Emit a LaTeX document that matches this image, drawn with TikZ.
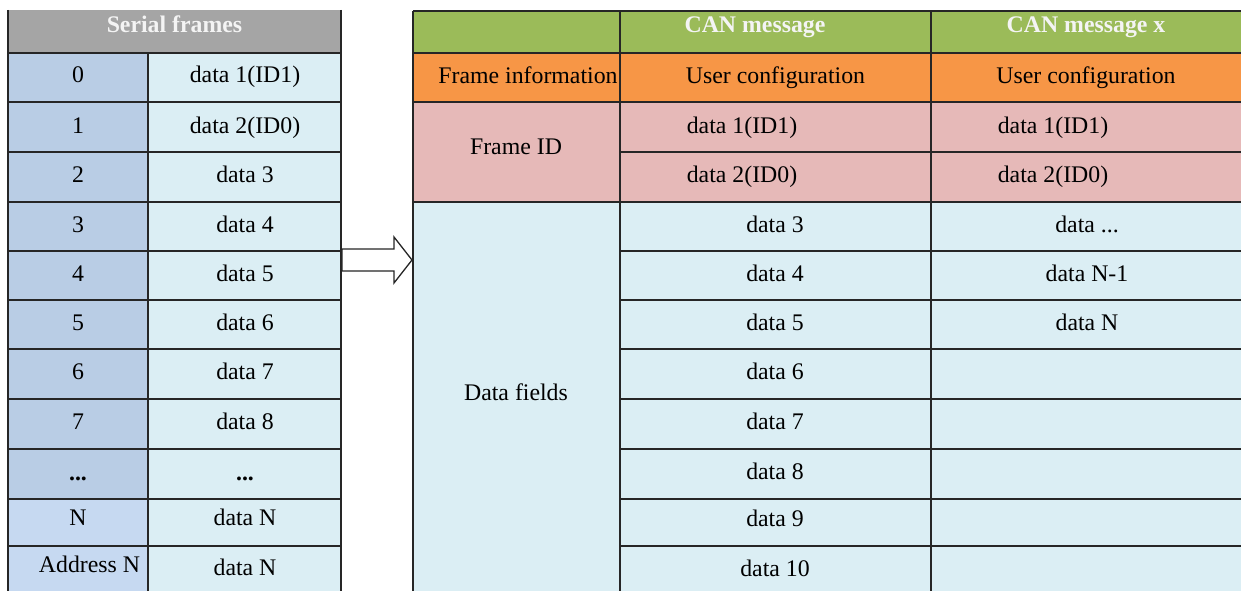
\documentclass[tikz,border=0pt]{standalone}
\usepackage{fontspec}
\setmainfont{Liberation Serif}
\definecolor{hdrgray}{HTML}{A5A5A5}
\definecolor{hdrtext}{HTML}{F4F4F4}
\definecolor{blueA}{HTML}{B9CDE5}
\definecolor{blueB}{HTML}{C6D9F1}
\definecolor{cyanL}{HTML}{DBEEF4}
\definecolor{greenH}{HTML}{9BBB59}
\definecolor{orangeH}{HTML}{F79646}
\definecolor{pinkH}{HTML}{E6B9B8}
\definecolor{gridc}{HTML}{262626}
\begin{document}
\begin{tikzpicture}[x=1pt,y=-1pt,
  grid/.style={draw=gridc,line width=1.3pt},
  txt/.style={anchor=base,inner sep=0pt,font=\fontsize{23.8}{28}\selectfont},
  hdr/.style={txt,text=hdrtext,font=\fontsize{23.8}{28}\selectfont\bfseries}]
\useasboundingbox (0,0) rectangle (1241,591);
% ---------- left table fills
\fill[hdrgray] (8,10) rectangle (341,53);
\fill[blueA] (8,53) rectangle (148,499);
\fill[blueB] (8,499) rectangle (148,591);
\fill[cyanL] (148,53) rectangle (341,591);
% ---------- left grid
\foreach \y in {53,102,152,202,251,300,349,399,449,499,546}
  \draw[grid] (8,\y) -- (341,\y);
\draw[grid] (8,10) -- (8,591);
\draw[grid] (341,10) -- (341,591);
\draw[grid] (148,53) -- (148,591);
% ---------- right table fills
\fill[greenH] (413,11) rectangle (1241,53);
\fill[orangeH] (413,53) rectangle (1241,102);
\fill[pinkH] (413,102) rectangle (1241,202);
\fill[cyanL] (413,202) rectangle (1241,591);
% ---------- right grid
\foreach \y in {11,53,102,202}
  \draw[grid] (413,\y) -- (1241,\y);
\foreach \y in {152,251,300,349,399,449,499,546}
  \draw[grid] (620,\y) -- (1241,\y);
\foreach \x in {413,620,931}
  \draw[grid] (\x,11) -- (\x,591);
% ---------- block arrow
\draw[grid,fill=white,line join=miter] (342,249) -- (394,249) -- (394,237) -- (412,260)
  -- (394,283) -- (394,271) -- (342,271) -- cycle;
% ---------- left texts
\node[hdr] (sf) at (174.5,33) {Serial frames};
\node[txt] (l0a) at (78,83) {0};   \node[txt] (l0b) at (245,83) {data 1(ID1)};
\node[txt] (l1a) at (78,133) {1};  \node[txt] (l1b) at (245,133) {data 2(ID0)};
\node[txt] (l2a) at (78,182) {2};  \node[txt] (l2b) at (245,182) {data 3};
\node[txt] (l3a) at (78,232) {3};  \node[txt] (l3b) at (245,232) {data 4};
\node[txt] (l4a) at (78,281) {4};  \node[txt] (l4b) at (245,281) {data 5};
\node[txt] (l5a) at (78,330) {5};  \node[txt] (l5b) at (245,330) {data 6};
\node[txt] (l6a) at (78,379) {6};  \node[txt] (l6b) at (245,379) {data 7};
\node[txt] (l7a) at (78,429) {7};  \node[txt] (l7b) at (245,429) {data 8};
\node[txt] (l8a) at (78,480) {\textbf{...}}; \node[txt] (l8b) at (245,480) {\textbf{...}};
\node[txt] (l9a) at (78,525) {N};  \node[txt] (l9b) at (245,525) {data N};
\node[txt] (l10a) at (89.5,572) {Address N}; \node[txt] (l10b) at (245,575) {data N};
% ---------- right texts
\node[hdr] (cm) at (755,33) {CAN message};
\node[hdr] (cmx) at (1086,33) {CAN message x};
\node[txt] (fi) at (528,84) {Frame information};
\node[txt] (uc1) at (775.5,84) {User configuration};
\node[txt] (uc2) at (1086,84) {User configuration};
\node[txt] (fid) at (516,154) {Frame ID};
\node[txt] (r1a) at (742,133) {data 1(ID1)};
\node[txt] (r1b) at (1053,133) {data 1(ID1)};
\node[txt] (r2a) at (742,182) {data 2(ID0)};
\node[txt] (r2b) at (1053,182) {data 2(ID0)};
\node[txt] (df) at (516,400) {Data fields};
\node[txt] (d3) at (775,232) {data 3};
\node[txt] (d4) at (775,281) {data 4};
\node[txt] (d5) at (775,330) {data 5};
\node[txt] (d6) at (775,379) {data 6};
\node[txt] (d7) at (775,429) {data 7};
\node[txt] (d8) at (775,479) {data 8};
\node[txt] (d9) at (775,526) {data 9};
\node[txt] (d10) at (775,576) {data 10};
\node[txt] (x1) at (1087,232) {data ...};
\node[txt] (x2) at (1087,281) {data N-1};
\node[txt] (x3) at (1087,330) {data N};
\end{tikzpicture}
\end{document}
